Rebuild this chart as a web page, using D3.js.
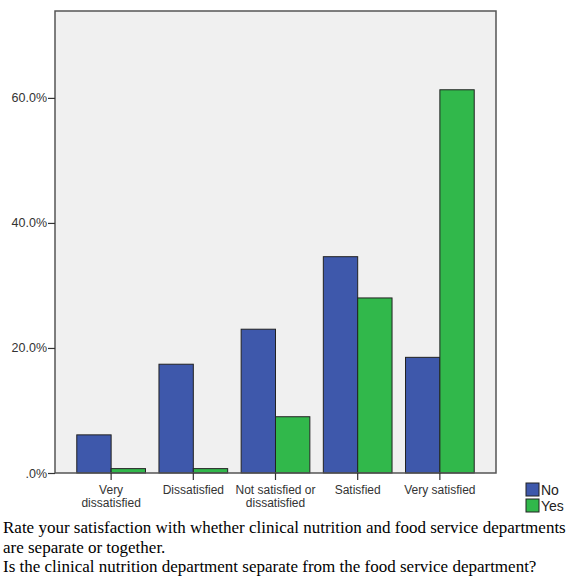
<!DOCTYPE html>
<html>
<head>
<meta charset="utf-8">
<script src="https://cdn.jsdelivr.net/npm/d3@7"></script>
<style>
  body { margin: 0; background: #fff; }
  svg { display: block; }
</style>
</head>
<body>
<svg id="chart"></svg>
<script>
const categories = ['Very dissatisfied', 'Dissatisfied', 'Not satisfied or dissatisfied', 'Satisfied', 'Very satisfied'];
const categoryLines = [['Very', 'dissatisfied'], ['Dissatisfied'], ['Not satisfied or', 'dissatisfied'], ['Satisfied'], ['Very satisfied']];
const seriesNames = ['No', 'Yes'];
const noValues = [6.1, 17.4, 23.0, 34.6, 18.5];
const yesValues = [0.7, 0.7, 9.0, 28.0, 61.3];
const yTicks = [0, 20, 40, 60];
const captionLines = [
    'Rate your satisfaction with whether clinical nutrition and food service departments',
    'are separate or together.',
    'Is the clinical nutrition department separate from the food service department?'
];

const width = 569, height = 576;
const plot = { left: 55, top: 11, right: 496, bottom: 473 };
const colors = { No: '#3e58ab', Yes: '#31b84b' };
const sans = 'Arial, "Liberation Sans", sans-serif';

const svg = d3.select('#chart').attr('width', width).attr('height', height);

const data = categories.map((c, i) => ({ key: c, No: noValues[i], Yes: yesValues[i] }));

const xscale = d3.scaleBand()
    .domain(categories)
    .range([plot.left, plot.right])
    .paddingInner(0.164)
    .paddingOuter(0.265);

const xsub = d3.scaleBand()
    .domain(seriesNames)
    .range([0, xscale.bandwidth()]);

const yscale = d3.scaleLinear()
    .domain([0, 73.9])
    .range([plot.bottom, plot.top]);

// plot background
svg.append('rect')
    .attr('x', plot.left).attr('y', plot.top)
    .attr('width', plot.right - plot.left).attr('height', plot.bottom - plot.top)
    .attr('fill', '#f0f0f0');

// bars
const groups = svg.selectAll('.grp')
    .data(data)
    .join('g')
    .attr('class', 'grp')
    .attr('transform', d => `translate(${xscale(d.key)},0)`);

groups.selectAll('rect')
    .data(d => seriesNames.map(s => ({ s, v: d[s] })))
    .join('rect')
    .attr('x', d => xsub(d.s))
    .attr('y', d => yscale(d.v))
    .attr('width', xsub.bandwidth())
    .attr('height', d => plot.bottom - yscale(d.v))
    .attr('fill', d => colors[d.s])
    .attr('stroke', '#222')
    .attr('stroke-width', 1);

// frame
svg.append('rect')
    .attr('x', plot.left).attr('y', plot.top)
    .attr('width', plot.right - plot.left).attr('height', plot.bottom - plot.top)
    .attr('fill', 'none')
    .attr('stroke', '#555')
    .attr('stroke-width', 1.5);

// y axis
const yaxis = d3.axisLeft(yscale)
    .tickValues(yTicks)
    .tickSize(7)
    .tickSizeOuter(0)
    .tickFormat(d => d === 0 ? '.0%' : d3.format('.1f')(d) + '%');

const yg = svg.append('g')
    .attr('transform', `translate(${plot.left},0)`)
    .call(yaxis);
yg.select('.domain').remove();
yg.selectAll('.tick line').attr('stroke', '#333').attr('stroke-width', 1.2);
yg.selectAll('.tick text')
    .attr('x', -8)
    .attr('font-family', sans)
    .attr('font-size', 12.5)
    .attr('fill', '#333');

// x axis
const xaxis = d3.axisBottom(xscale).tickSize(7).tickSizeOuter(0).tickFormat('');
const xg = svg.append('g')
    .attr('transform', `translate(0,${plot.bottom})`)
    .call(xaxis);
xg.select('.domain').remove();
xg.selectAll('.tick line').attr('stroke', '#333').attr('stroke-width', 1.2);

svg.append('g').selectAll('text')
    .data(categories)
    .join('text')
    .attr('x', d => xscale(d) + xscale.bandwidth() / 2)
    .attr('y', 494)
    .attr('text-anchor', 'middle')
    .attr('font-family', sans)
    .attr('font-size', 12)
    .attr('fill', '#333')
    .selectAll('tspan')
    .data((d, i) => categoryLines[i])
    .join('tspan')
    .attr('x', function () { return d3.select(this.parentNode).attr('x'); })
    .attr('dy', (d, i) => i === 0 ? 0 : 13)
    .text(d => d);

// legend
const legend = svg.append('g').attr('transform', 'translate(526,483)');
seriesNames.forEach((s, i) => {
    legend.append('rect')
        .attr('x', 0).attr('y', i * 16)
        .attr('width', 13).attr('height', 13)
        .attr('fill', colors[s])
        .attr('stroke', '#222');
    legend.append('text')
        .attr('x', 15).attr('y', i * 16 + 12)
        .attr('font-family', sans)
        .attr('font-size', 14)
        .attr('fill', '#222')
        .text(s);
});

// caption
svg.append('g').selectAll('text')
    .data(captionLines)
    .join('text')
    .attr('x', 3)
    .attr('y', (d, i) => 533 + i * 19.5)
    .attr('font-family', '"Liberation Serif", "Times New Roman", serif')
    .attr('font-size', 17)
    .attr('fill', '#000')
    .text(d => d);
</script>
</body>
</html>
